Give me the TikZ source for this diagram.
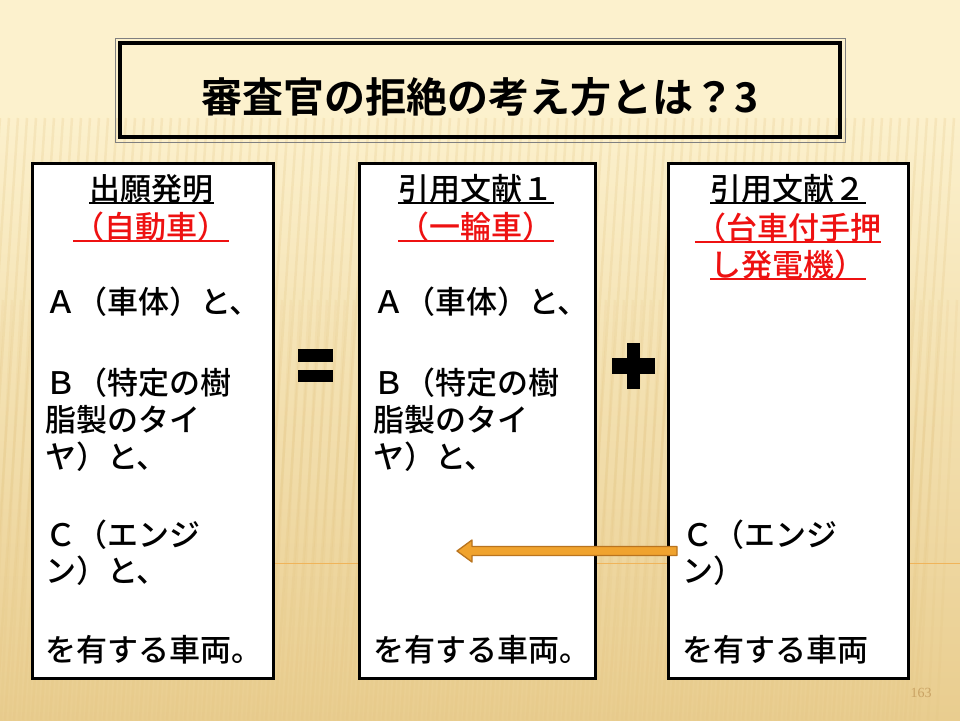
\documentclass[tikz,border=0pt]{standalone}
\usepackage{fontspec}
\setmainfont{Noto Sans CJK JP}[UprightFont=* Medium,BoldFont=* Bold]
\newfontfamily\numfont{Liberation Serif}
\usetikzlibrary{calc}
\definecolor{bgtop}{HTML}{FCF1CD}
\definecolor{bgbot}{HTML}{E9CD8F}
\definecolor{stripe}{HTML}{E2C27E}
\definecolor{redtxt}{HTML}{EE1111}
\definecolor{arrfill}{HTML}{F0A32E}
\definecolor{arrline}{HTML}{B9741F}
\definecolor{pagenum}{HTML}{C9A263}
\definecolor{hline}{HTML}{F0B45A}
\begin{document}
\begin{tikzpicture}[x=1pt,y=-1pt,
  panel/.style={draw=black,line width=3pt,fill=white,inner sep=0pt},
  txt/.style={anchor=west,inner sep=0pt,font=\fontsize{31}{37}\selectfont},
  hd/.style={anchor=center,inner sep=0pt,font=\fontsize{31}{37}\selectfont},
  redhd/.style={hd,text=redtxt},
  uline/.style={line width=2pt},
  bar/.style={fill=black,draw=none},
  orarrow/.style={fill=arrfill,draw=arrline,line width=1.3pt,line join=round}]
\useasboundingbox (0,0) rectangle (960,720);
% background
\fill[bgtop] (0,0) rectangle (960,720);
\shade[top color=bgtop,bottom color=bgbot] (0,110) rectangle (960,720);
\foreach \i in {0,9,...,960} {
  \draw[stripe,opacity=0.22,line width=2.5pt] (\i,118) -- (\i-40,720);
}
\foreach \i in {3,12,...,960} {
  \draw[stripe,opacity=0.15,line width=2.5pt] (\i,300) -- (\i-20,720);
}
\draw[hline,line width=1pt] (200,563) -- (960,563);
% title
\draw[gray,line width=1pt] (115,38) rectangle (845,142);
\draw[black,line width=4pt] (120,43) rectangle (840,137);
\node[inner sep=0pt,font=\fontsize{41}{45}\selectfont\bfseries] (title) at (480,97) {審査官の拒絶の考え方とは？3};
% panels
\node[panel,minimum width=241pt,minimum height=515pt] (p1) at (152.5,420.5) {};
\node[panel,minimum width=236pt,minimum height=515pt] (p2) at (477,420.5) {};
\node[panel,minimum width=240pt,minimum height=515pt] (p3) at (788,420.5) {};
% panel 1
\node[hd] (p1h1) at (151.5,189) {出願発明};
\draw[uline] ($(p1h1.south west)+(0,-1)$) -- ($(p1h1.south east)+(0,-1)$);
\node[redhd] (p1h2) at (151,227) {（自動車）};
\draw[uline,redtxt] ($(p1h2.south west)+(0,-1)$) -- ($(p1h2.south east)+(0,-1)$);
\node[txt] (p1a) at (45,302) {Ａ（車体）と、};
\node[txt] (p1b1) at (45,383) {Ｂ（特定の樹};
\node[txt] (p1b2) at (45,420) {脂製のタイ};
\node[txt] (p1b3) at (45,457) {ヤ）と、};
\node[txt] (p1c1) at (45,535) {Ｃ（エンジ};
\node[txt] (p1c2) at (45,571) {ン）と、};
\node[txt] (p1e) at (45,650) {を有する車両。};
% panel 2
\node[hd] (p2h1) at (476,189) {引用文献１};
\draw[uline] ($(p2h1.south west)+(0,-1)$) -- ($(p2h1.south east)+(0,-1)$);
\node[redhd] (p2h2) at (476,227) {（一輪車）};
\draw[uline,redtxt] ($(p2h2.south west)+(0,-1)$) -- ($(p2h2.south east)+(0,-1)$);
\node[txt] (p2a) at (373,302) {Ａ（車体）と、};
\node[txt] (p2b1) at (373,383) {Ｂ（特定の樹};
\node[txt] (p2b2) at (373,420) {脂製のタイ};
\node[txt] (p2b3) at (373,457) {ヤ）と、};
\node[txt] (p2e) at (373,650) {を有する車両。};
% panel 3
\node[hd] (p3h1) at (788,189) {引用文献２};
\draw[uline] ($(p3h1.south west)+(0,-1)$) -- ($(p3h1.south east)+(0,-1)$);
\node[redhd] (p3h2) at (788,228) {（台車付手押};
\draw[uline,redtxt] ($(p3h2.south west)+(0,-1)$) -- ($(p3h2.south east)+(0,-1)$);
\node[redhd] (p3h3) at (788,265) {し発電機）};
\draw[uline,redtxt] ($(p3h3.south west)+(0,-1)$) -- ($(p3h3.south east)+(0,-1)$);
\node[txt] (p3c1) at (682,535) {Ｃ（エンジ};
\node[txt] (p3c2) at (682,571) {ン）};
\node[txt] (p3e) at (682,650) {を有する車両};
% equals and plus
\fill[bar] (298,349) rectangle (333,362);
\fill[bar] (298,370) rectangle (333,382);
\fill[bar] (612,358) rectangle (655,374);
\fill[bar] (627,343) rectangle (640,389);
% arrow
\coordinate (arrtail) at (677,551);
\coordinate (arrtip) at (457,551);
\draw[orarrow] ($(arrtail)+(0,-4.5)$) -- ($(arrtip)+(15,-4.5)$) -- ($(arrtip)+(15,-11)$) -- (arrtip)
  -- ($(arrtip)+(15,11)$) -- ($(arrtip)+(15,4.5)$) -- ($(arrtail)+(0,4.5)$) -- cycle;
% page number
\node[inner sep=0pt,text=pagenum,font=\numfont\fontsize{14}{16}\selectfont] (pg) at (921,693) {163};
\end{tikzpicture}
\end{document}
